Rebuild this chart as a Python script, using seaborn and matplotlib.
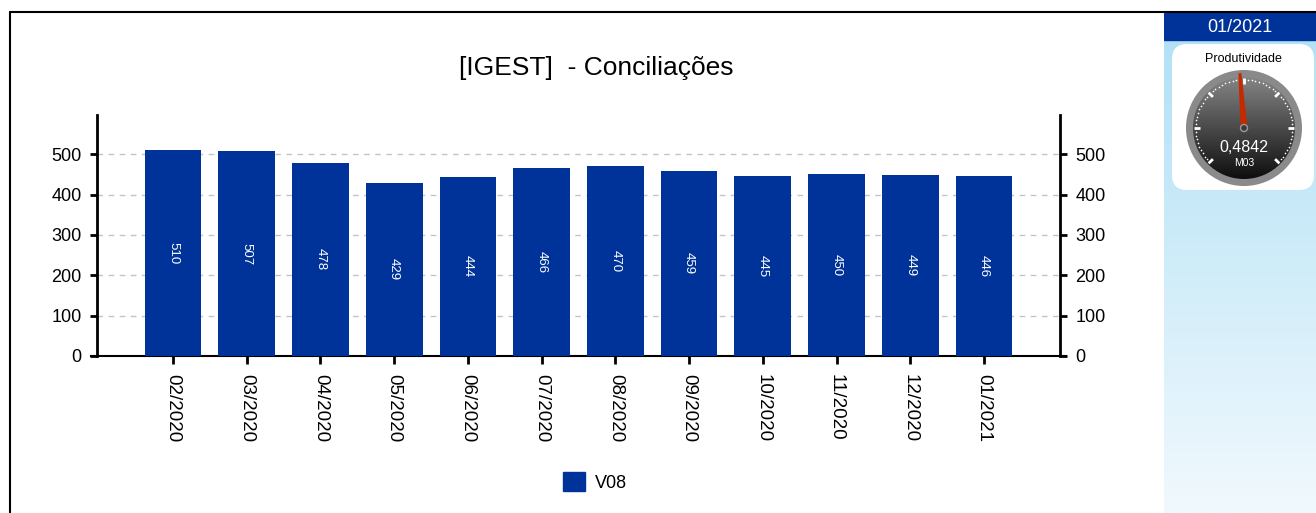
import numpy as np
import pandas as pd
import matplotlib.pyplot as plt
import seaborn as sns
from matplotlib.patches import Circle, FancyBboxPatch, Rectangle, Polygon
from matplotlib.lines import Line2D
from matplotlib.colors import to_rgb

# dados
meses = ['02/2020', '03/2020', '04/2020', '05/2020', '06/2020', '07/2020',
         '08/2020', '09/2020', '10/2020', '11/2020', '12/2020', '01/2021']
valores = [510, 507, 478, 429, 444, 466, 470, 459, 445, 450, 449, 446]
serie = 'V08'
titulo = '[IGEST]  - Conciliações'
periodo = '01/2021'
gauge_titulo = 'Produtividade'
gauge_valor = 0.4842
gauge_rotulo = 'M03'

azul = '#003399'

sns.set_style('white')
plt.rcParams['font.family'] = ['Liberation Sans', 'DejaVu Sans']
plt.rcParams['text.color'] = 'black'
plt.rcParams['xtick.color'] = 'black'
plt.rcParams['ytick.color'] = 'black'

W, H = 1316, 513
fig = plt.figure(figsize=(W / 100, H / 100), dpi=100)


def px(x0, y0, x1, y1):
    # caixa em pixels -> retangulo da figura
    return [x0 / W, 1 - y1 / H, (x1 - x0) / W, (y1 - y0) / H]


# moldura
fig.add_artist(Line2D([10 / W, 1], [1 - 12 / H] * 2, color='black', lw=1.5))
fig.add_artist(Line2D([10 / W] * 2, [0, 1 - 12 / H], color='black', lw=1.5))

# grafico de barras
ax = fig.add_axes(px(97, 115, 1060, 356))
df = pd.DataFrame({'mes': meses, 'valor': valores})
sns.barplot(data=df, x='mes', y='valor', color=azul, saturation=1, width=0.77, linewidth=0,
            ax=ax, zorder=3)
ax.bar_label(ax.containers[0], label_type='center', rotation=-90, color='white', fontsize=9.5)

ax.set_xlim(-1.03, len(meses) - 1 + 1.03)
ax.set_ylim(0, 597)
ax.set_yticks(range(0, 501, 100))
ax.set_xlabel('')
ax.set_ylabel('')
ax.yaxis.grid(True, linestyle=(0, (4, 4)), color='#c4c4c4', lw=1, zorder=0)
ax.set_axisbelow(True)
for s in ['left', 'right']:
    ax.spines[s].set_linewidth(2)
    ax.spines[s].set_color('black')
ax.spines['top'].set_visible(False)
ax.spines['bottom'].set_linewidth(1.5)
ax.spines['bottom'].set_color('black')
ax.spines['bottom'].set_bounds(-1.03 - 0.08, len(meses) - 1 + 1.03 + 0.08)
ax.tick_params(axis='y', left=True, right=True, labelleft=True, labelright=True,
               length=5, width=2, labelsize=13, pad=6, direction='out', colors='black')
ax.tick_params(axis='x', bottom=True, length=6, width=2, labelsize=13.5, pad=7, direction='out',
               colors='black')
ax.set_xticks(range(len(meses)))
ax.set_xticklabels(meses, rotation=-90, va='top', ha='center')

fig.text(596 / W, 1 - 68 / H, titulo, ha='center', va='center', fontsize=19, color='black')

# legenda
fig.legend(handles=[Rectangle((0, 0), 1, 1, color=azul)], labels=[serie],
           loc='center', bbox_to_anchor=(595 / W, 1 - 482 / H), frameon=False,
           fontsize=13, handlelength=1.22, handleheight=1.22, handletextpad=0.5, borderpad=0)

# painel lateral
pax = fig.add_axes(px(1164, 13, 1316, 513))
pax.set_xlim(1164, 1316)
pax.set_ylim(513, 13)
pax.axis('off')

c0, c1 = np.array(to_rgb('#b2e1f6')), np.array(to_rgb('#f1f9fd'))
t = np.linspace(0, 1, 200)[:, None, None]
grad = c0 + (c1 - c0) * t
pax.imshow(grad, extent=(1164, 1316, 513, 40), aspect='auto', origin='upper', zorder=0)

pax.add_patch(Rectangle((1164, 13), 152, 27, color=azul, zorder=1))
pax.text(1240, 27, periodo, color='white', ha='center', va='center', fontsize=13, zorder=2)

pax.add_patch(FancyBboxPatch((1172, 44), 142, 146, boxstyle='round,pad=0,rounding_size=15',
                             fc='white', ec='none', zorder=1))
pax.text(1243, 59, gauge_titulo, ha='center', va='center', fontsize=9, zorder=2)

# mostrador
cx, cy, R = 1244, 128, 58
pax.add_patch(Circle((cx, cy), R, fc='#8a8a8a', ec='none', zorder=2))
ri = 51
g0, g1 = np.array(to_rgb('#858585')), np.array(to_rgb('#0e0e0e'))
gg = g0 + (g1 - g0) * np.linspace(0, 1, 200)[:, None, None]
im = pax.imshow(gg, extent=(cx - ri, cx + ri, cy + ri, cy - ri), aspect='auto', origin='upper', zorder=3)
disco = Circle((cx, cy), ri, transform=pax.transData)
im.set_clip_path(disco)
pax.set_xlim(1164, 1316)
pax.set_ylim(513, 13)

a_ini, a_fim = 225, -45
for k in range(61):
    a = np.radians(a_ini + (a_fim - a_ini) * k / 60)
    if k % 10 == 0:
        pax.plot([cx + 44 * np.cos(a), cx + 50 * np.cos(a)], [cy - 44 * np.sin(a), cy - 50 * np.sin(a)],
                 color='white', lw=2, zorder=4, solid_capstyle='butt')
    else:
        pax.plot(cx + 48.5 * np.cos(a), cy - 48.5 * np.sin(a), 'o', ms=1.2, color='white', mec='none', zorder=4)

ang = np.radians(a_ini + (a_fim - a_ini) * gauge_valor)
perp = ang + np.pi / 2
tip = (cx + 55 * np.cos(ang), cy - 55 * np.sin(ang))
pts = [(cx + 3.5 * np.cos(perp), cy - 3.5 * np.sin(perp)), (tip[0] + 1.5 * np.cos(perp), tip[1] - 1.5 * np.sin(perp)),
       (tip[0] - 1.5 * np.cos(perp), tip[1] + 1.5 * np.sin(perp)), (cx - 3.5 * np.cos(perp), cy + 3.5 * np.sin(perp))]
pax.add_patch(Polygon(pts, closed=True, fc='#c42a00', ec='none', zorder=5))
pax.add_patch(Circle((cx, cy), 3.5, fc='#3a3a3a', ec='#9a9a9a', lw=1, zorder=6))

pax.text(cx, 148, f'{gauge_valor:.4f}'.replace('.', ','), color='white', ha='center', va='center',
         fontsize=11.5, zorder=6)
pax.text(cx, 163, gauge_rotulo, color='white', ha='center', va='center', fontsize=7.5, zorder=6)

fig.savefig('out.png', dpi=100)
